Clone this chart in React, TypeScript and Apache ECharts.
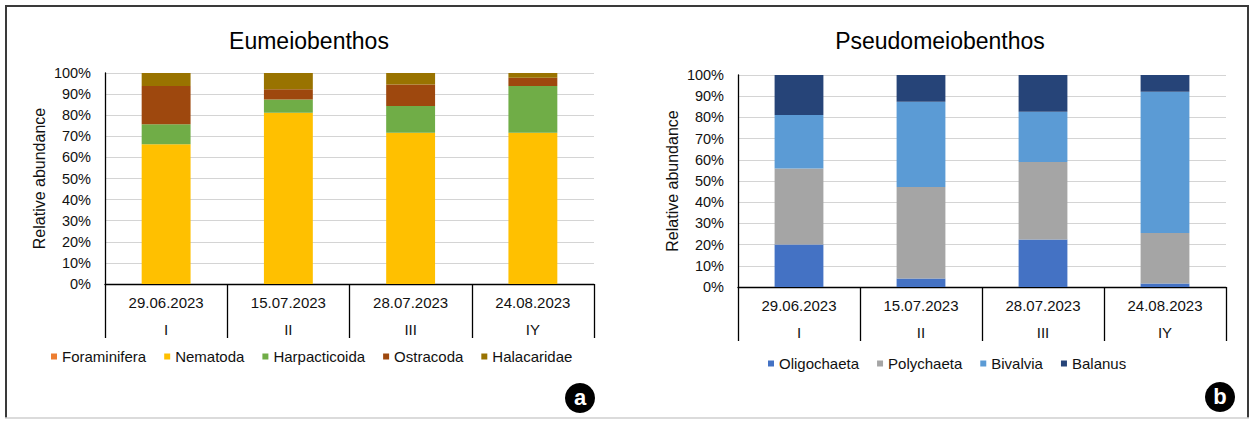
import React, { useEffect, useRef } from "react";
import * as echarts from "echarts";

const dates = ["29.06.2023", "15.07.2023", "28.07.2023", "24.08.2023"];
const stations = ["I", "II", "III", "IY"];

// Eumeiobenthos (relative abundance, %)
const foraminifera = [0, 0, 0, 0];
const nematoda = [66.2, 81.2, 71.7, 71.7];
const harpacticoida = [9.5, 6.3, 12.7, 22.1];
const ostracoda = [18.1, 4.8, 10.2, 4.0];
const halacaridae = [6.2, 7.7, 5.4, 2.2];

// Pseudomeiobenthos (relative abundance, %)
const oligochaeta = [20.0, 4.0, 22.4, 1.6];
const polychaeta = [35.9, 43.2, 36.6, 23.9];
const bivalvia = [25.2, 40.2, 23.7, 66.6];
const balanus = [18.9, 12.6, 17.3, 7.9];

const leftSeries = [
  { name: "Foraminifera", data: foraminifera, color: "#ED7D31" },
  { name: "Nematoda", data: nematoda, color: "#FFC000" },
  { name: "Harpacticoida", data: harpacticoida, color: "#70AD47" },
  { name: "Ostracoda", data: ostracoda, color: "#9E480E" },
  { name: "Halacaridae", data: halacaridae, color: "#997300" },
];
const rightSeries = [
  { name: "Oligochaeta", data: oligochaeta, color: "#4472C4" },
  { name: "Polychaeta", data: polychaeta, color: "#A5A5A5" },
  { name: "Bivalvia", data: bivalvia, color: "#5B9BD5" },
  { name: "Balanus", data: balanus, color: "#264478" },
];

const FONT = "'Liberation Sans', Arial, sans-serif";
const TXT = "#111";

function xAxisFor(gridIndex: number) {
  return {
    type: "category",
    gridIndex,
    data: dates,
    boundaryGap: true,
    axisLine: { show: true, lineStyle: { color: "#000", width: 1.3 } },
    axisTick: { show: true, length: 54, interval: 0, alignWithLabel: false, lineStyle: { color: "#000", width: 1.3 } },
    axisLabel: {
      interval: 0,
      margin: 5,
      fontFamily: FONT,
      fontSize: 15,
      color: TXT,
      lineHeight: 27,
      formatter: (v: string, i: number) => `${v}\n${stations[i]}`,
    },
    splitLine: { show: false },
  };
}

function yAxisFor(gridIndex: number) {
  return {
    type: "value",
    gridIndex,
    min: 0,
    max: 100,
    interval: 10,
    name: "Relative abundance",
    nameLocation: "middle",
    nameRotate: 90,
    nameGap: 58,
    nameTextStyle: { fontFamily: FONT, fontSize: 16, color: TXT },
    axisLine: { show: true, lineStyle: { color: "#000", width: 1.3 } },
    axisTick: { show: false },
    axisLabel: { fontFamily: FONT, fontSize: 14.5, color: TXT, margin: 14, formatter: "{value}%" },
    splitLine: { show: true, lineStyle: { color: "#d4d4d4", width: 1 } },
  };
}

export default function App() {
  const ref = useRef<HTMLDivElement>(null);
  useEffect(() => {
    document.body.style.margin = "0";
    if (!ref.current) return;
    const chart = echarts.init(ref.current, null, { renderer: "svg" });
    const series: any[] = [];
    leftSeries.forEach((s) =>
      series.push({
        name: s.name,
        type: "bar",
        stack: "left",
        xAxisIndex: 0,
        yAxisIndex: 0,
        barWidth: "40%",
        data: s.data,
        itemStyle: { color: s.color },
      })
    );
    rightSeries.forEach((s) =>
      series.push({
        name: s.name,
        type: "bar",
        stack: "right",
        xAxisIndex: 1,
        yAxisIndex: 1,
        barWidth: "40%",
        data: s.data,
        itemStyle: { color: s.color },
      })
    );
    const legendCommon = {
      icon: "rect",
      itemWidth: 6,
      itemHeight: 6,
      itemGap: 18,
      textStyle: { fontFamily: FONT, fontSize: 15, color: TXT },
    };
    chart.setOption({
      animation: false,
      backgroundColor: "#fff",
      title: [
        { text: "Eumeiobenthos", left: 304, top: 24, textAlign: "center", textStyle: { fontFamily: FONT, fontSize: 23, fontWeight: "normal", color: "#000" } },
        { text: "Pseudomeiobenthos", left: 935, top: 24, textAlign: "center", textStyle: { fontFamily: FONT, fontSize: 23, fontWeight: "normal", color: "#000" } },
      ],
      grid: [
        { left: 105, top: 73, width: 489, height: 211 },
        { left: 738, top: 75, width: 488, height: 212 },
      ],
      xAxis: [xAxisFor(0), xAxisFor(1)],
      yAxis: [yAxisFor(0), yAxisFor(1)],
      legend: [
        { ...legendCommon, data: leftSeries.map((s) => s.name), left: 46, top: 344 },
        { ...legendCommon, data: rightSeries.map((s) => s.name), left: 763, top: 351 },
      ],
      graphic: [
        { type: "line", shape: { x1: 5, y1: 6, x2: 1249, y2: 6 }, style: { stroke: "#3a3a3a", lineWidth: 2 } },
        { type: "line", shape: { x1: 6, y1: 5, x2: 6, y2: 418 }, style: { stroke: "#3a3a3a", lineWidth: 2 } },
        { type: "line", shape: { x1: 1248, y1: 5, x2: 1248, y2: 418 }, style: { stroke: "#3a3a3a", lineWidth: 2 } },
        { type: "line", shape: { x1: 5, y1: 418, x2: 1249, y2: 418 }, style: { stroke: "#cfcfcf", lineWidth: 1.5 } },
        { type: "circle", shape: { cx: 580, cy: 398, r: 15 }, style: { fill: "#000" } },
        { type: "text", x: 580, y: 397, style: { text: "a", fill: "#fff", font: `bold 22px ${FONT}`, textAlign: "center", textVerticalAlign: "middle" } },
        { type: "circle", shape: { cx: 1220, cy: 397, r: 15 }, style: { fill: "#000" } },
        { type: "text", x: 1220, y: 396, style: { text: "b", fill: "#fff", font: `bold 22px ${FONT}`, textAlign: "center", textVerticalAlign: "middle" } },
      ],
      series,
    });
    return () => chart.dispose();
  }, []);
  return <div ref={ref} style={{ width: 1255, height: 421 }} />;
}
